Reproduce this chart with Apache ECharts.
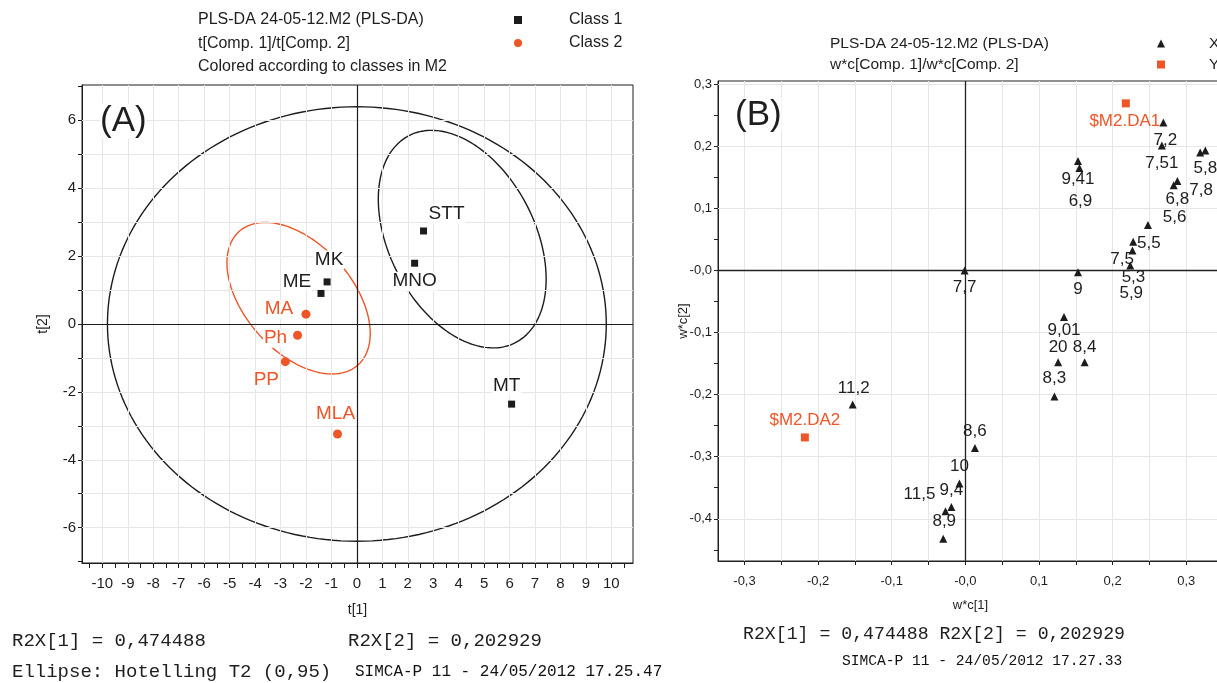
<!DOCTYPE html>
<html><head><meta charset="utf-8">
<script src="https://cdn.jsdelivr.net/npm/echarts@6/dist/echarts.min.js"></script>
<style>html,body{margin:0;padding:0;background:#fff}#c{width:1217px;height:683px}</style>
</head><body><div id="c"></div>
<script>
// ---------- Panel A : scores t[1] / t[2] ----------
const A_CLASS1_NAMES = ['MK', 'ME', 'STT', 'MNO', 'MT'];
const A_CLASS1_T1 = [-1.17, -1.41, 2.62, 2.27, 6.08];
const A_CLASS1_T2 = [1.24, 0.90, 2.74, 1.79, -2.36];
const A_CLASS2_NAMES = ['MA', 'Ph', 'PP', 'MLA'];
const A_CLASS2_T1 = [-2.00, -2.33, -2.81, -0.76];
const A_CLASS2_T2 = [0.29, -0.33, -1.11, -3.24];
// ellipses: centre + two conjugate semi-axis vectors (data units)
const A_HOTELLING = [0, 0, 9.8, 0, 0, 6.4];
const A_ELL_CLASS1 = [4.14, 2.50, 2.09, -3.05, -2.55, -0.98];
const A_ELL_CLASS2 = [-2.29, 0.76, 2.33, -1.97, -1.58, -1.05];
const A_X_TICKS = [-10.5, -10, -9.5, -9, -8.5, -8, -7.5, -7, -6.5, -6, -5.5, -5, -4.5, -4, -3.5, -3, -2.5, -2, -1.5, -1, -0.5, 0, 0.5, 1, 1.5, 2, 2.5, 3, 3.5, 4, 4.5, 5, 5.5, 6, 6.5, 7, 7.5, 8, 8.5, 9, 9.5, 10, 10.5];
const A_X_LABELS = [-10, -9, -8, -7, -6, -5, -4, -3, -2, -1, 0, 1, 2, 3, 4, 5, 6, 7, 8, 9, 10];
const A_Y_TICKS = [-7, -6, -5, -4, -3, -2, -1, 0, 1, 2, 3, 4, 5, 6, 7];
const A_Y_LABELS = [-6, -4, -2, 0, 2, 4, 6];
const A_Y_GRID = [-6, -5, -4, -3, -2, -1, 0, 1, 2, 3, 4, 5, 6];

// ---------- Panel B : loadings w*c[1] / w*c[2] ----------
const B_X_NAMES = ['7,2', '7,51', '5,8', '7,8', '6,8', '5,6', '5,5', '7,5', '5,3', '5,9', '9,41', '6,9', '7,7', '9', '9,01', '20', '8,4', '8,3', '11,2', '8,6', '10', '9,4', '11,5', '8,9'];
const B_X_WC1 = [0.269, 0.267, 0.326, 0.319, 0.288, 0.283, 0.248, 0.228, 0.227, 0.224, 0.153, 0.155, -0.001, 0.153, 0.134, 0.126, 0.162, 0.121, -0.153, 0.013, -0.008, -0.019, -0.027, -0.030];
const B_X_WC2 = [0.238, 0.201, 0.193, 0.190, 0.144, 0.137, 0.073, 0.046, 0.032, 0.008, 0.176, 0.165, 0.000, -0.003, -0.075, -0.148, -0.148, -0.203, -0.216, -0.286, -0.343, -0.381, -0.388, -0.432];
const B_Y_NAMES = ['$M2.DA1', '$M2.DA2'];
const B_Y_WC1 = [0.218, -0.218];
const B_Y_WC2 = [0.269, -0.269];
const B_X_TICKS = [-0.3, -0.25, -0.2, -0.15, -0.1, -0.05, 0, 0.05, 0.1, 0.15, 0.2, 0.25, 0.3, 0.35];
const B_X_LABELS = [-0.3, -0.2, -0.1, 0, 0.1, 0.2, 0.3];
const B_Y_TICKS = [-0.45, -0.4, -0.35, -0.3, -0.25, -0.2, -0.15, -0.1, -0.05, 0, 0.05, 0.1, 0.15, 0.2, 0.25, 0.3];
const B_Y_LABELS = [-0.4, -0.3, -0.2, -0.1, 0, 0.1, 0.2, 0.3];

// label placement (pixel offsets of label centre from the mark) - styling only
const LABEL_OFFSET = {
  'MK': [2, -22], 'ME': [-24, -12], 'STT': [23, -17], 'MNO': [0, 18], 'MT': [-5, -18],
  'MA': [-27, -5], 'Ph': [-22, 3], 'PP': [-19, 18], 'MLA': [-2, -20],
  '7,2': [2, 18], '7,51': [0, 18], '5,8': [0, 18], '7,8': [1, 38], '6,8': [0, 18], '5,6': [1, 32],
  '5,5': [1, 18], '7,5': [-11, 17], '5,3': [1, 27], '5,9': [1, 28], '9,41': [0, 18], '6,9': [1, 33],
  '7,7': [0, 17], '9': [0, 17], '9,01': [0, 13], '20': [0, -15], '8,4': [0, -15], '8,3': [0, -18],
  '11,2': [1, -16], '8,6': [0, -17], '10': [0, -17], '9,4': [0, -17], '11,5': [-26, -17], '8,9': [1, -17],
  '$M2.DA1': [-1, 18], '$M2.DA2': [0, -17]
};

const ORANGE = '#EE5527';
const INK = '#1c1c1c';
const TXT = '#1e1e1e';
const GRIDC = '#e6e6e6';
const FONT = '"Liberation Sans", Arial, sans-serif';
const MONO = '"Liberation Mono", "Courier New", monospace';

function items(names, xs, ys) {
  return names.map((n, i) => ({ name: n, value: [xs[i], ys[i]], label: { offset: LABEL_OFFSET[n] || [0, 0] } }));
}
function ellipse(e) {
  const out = [];
  for (let k = 0; k <= 200; k++) {
    const t = 2 * Math.PI * k / 200;
    out.push([e[0] + e[2] * Math.cos(t) + e[4] * Math.sin(t), e[1] + e[3] * Math.cos(t) + e[5] * Math.sin(t)]);
  }
  return out;
}
function fmtB(v) { if (Math.abs(v) < 1e-9) return '-0,0'; return v.toFixed(1).replace('.', ','); }

const chart = echarts.init(document.getElementById('c'), null, { renderer: 'canvas' });

function gridLines(xi, xs, ys, color) {
  return {
    type: 'line', xAxisIndex: xi, yAxisIndex: xi, data: [], z: 1, silent: true,
    markLine: {
      silent: true, symbol: ['none', 'none'], label: { show: false }, animation: false,
      lineStyle: { color: color, type: 'solid', width: 1 },
      emphasis: { disabled: true },
      data: xs.map(v => ({ xAxis: v })).concat(ys.map(v => ({ yAxis: v })))
    }
  };
}
function zeroLines(xi, color, w) {
  return {
    type: 'line', xAxisIndex: xi, yAxisIndex: xi, data: [], z: 3, silent: true,
    markLine: {
      silent: true, symbol: ['none', 'none'], label: { show: false }, animation: false,
      lineStyle: { color: color, type: 'solid', width: w },
      emphasis: { disabled: true },
      data: [{ xAxis: 0 }, { yAxis: 0 }]
    }
  };
}
function ell(data, color) {
  return { type: 'line', xAxisIndex: 0, yAxisIndex: 0, data: data, showSymbol: false, symbol: 'none', z: 2, silent: true,
    lineStyle: { color: color, width: 1.4 } };
}
const labelA = (color) => ({ show: true, position: 'inside', formatter: '{b}', fontSize: 19, color: color, opacity: 1,
  fontFamily: FONT, backgroundColor: '#fff', padding: [0, 1], textBorderWidth: 0 });
const labelB = (color) => ({ show: true, position: 'inside', formatter: '{b}', fontSize: 17, color: color, opacity: 1,
  fontFamily: FONT, textBorderWidth: 0 });

const option = {
  animation: false,
  backgroundColor: '#fff',
  textStyle: { fontFamily: FONT },
  title: [
    { text: 'PLS-DA 24-05-12.M2 (PLS-DA)\nt[Comp. 1]/t[Comp. 2]\nColored according to classes in M2',
      left: 198, top: 8, padding: 0,
      textStyle: { fontSize: 16, fontWeight: 'normal', lineHeight: 23.5, color: TXT, fontFamily: FONT } },
    { text: 'PLS-DA 24-05-12.M2 (PLS-DA)\nw*c[Comp. 1]/w*c[Comp. 2]',
      left: 830, top: 33, padding: 0,
      textStyle: { fontSize: 15.5, fontWeight: 'normal', lineHeight: 21, color: TXT, fontFamily: FONT } }
  ],
  legend: [
    { data: [{ name: 'Class 1', icon: 'rect' }, { name: 'Class 2', icon: 'circle' }], orient: 'vertical',
      left: 514, top: 11, itemWidth: 8, itemHeight: 8, itemGap: 5, selectedMode: false, padding: 0,
      itemStyle: { opacity: 1 },
      textStyle: { fontSize: 16, color: TXT, fontFamily: FONT, lineHeight: 18, padding: [0, 0, 0, 42] } },
    { data: [{ name: 'X', icon: 'triangle' }, { name: 'Y', icon: 'rect' }], orient: 'vertical',
      left: 1157, top: 35, itemWidth: 8, itemHeight: 8, itemGap: 4, selectedMode: false, padding: 0,
      itemStyle: { opacity: 1 },
      textStyle: { fontSize: 15.5, color: TXT, fontFamily: FONT, lineHeight: 17, padding: [0, 0, 0, 39] } }
  ],
  grid: [
    { left: 82, top: 85, width: 551, height: 478, show: true, borderColor: INK, borderWidth: 1, backgroundColor: 'transparent', outerBoundsMode: 'none', containLabel: false },
    { left: 718, top: 81, width: 505, height: 480, show: true, borderColor: '#222', borderWidth: 1, backgroundColor: 'transparent', outerBoundsMode: 'none', containLabel: false }
  ],
  xAxis: [
    { gridIndex: 0, type: 'value', min: -10.8, max: 10.85, position: 'bottom',
      axisLine: { show: true, onZero: false, lineStyle: { color: INK } },
      axisTick: { show: true, customValues: A_X_TICKS, length: 5, lineStyle: { color: INK } },
      axisLabel: { customValues: A_X_LABELS, fontSize: 15, color: TXT, margin: 13, fontFamily: FONT },
      splitLine: { show: false },
      name: 't[1]', nameLocation: 'middle', nameGap: 40, nameMoveOverlap: false,
      nameTextStyle: { fontSize: 14, color: TXT, fontFamily: FONT } },
    { gridIndex: 1, type: 'value', min: -0.336, max: 0.35, position: 'bottom',
      axisLine: { show: true, onZero: false, lineStyle: { color: '#222' } },
      axisTick: { show: true, customValues: B_X_TICKS, length: 4, lineStyle: { color: '#222' } },
      axisLabel: { customValues: B_X_LABELS, formatter: fmtB, fontSize: 13, color: TXT, margin: 14, fontFamily: FONT },
      splitLine: { show: false },
      name: 'w*c[1]', nameLocation: 'middle', nameGap: 38, nameMoveOverlap: false,
      nameTextStyle: { fontSize: 13, color: TXT, fontFamily: FONT } }
  ],
  yAxis: [
    { gridIndex: 0, type: 'value', min: -7.04, max: 7.04, position: 'left',
      axisLine: { show: true, onZero: false, lineStyle: { color: INK } },
      axisTick: { show: true, customValues: A_Y_TICKS, length: 4, lineStyle: { color: INK } },
      axisLabel: { customValues: A_Y_LABELS, fontSize: 15, color: TXT, margin: 6, fontFamily: FONT },
      splitLine: { show: false },
      name: 't[2]', nameLocation: 'middle', nameGap: 32, nameMoveOverlap: false,
      nameTextStyle: { fontSize: 14, color: TXT, fontFamily: FONT } },
    { gridIndex: 1, type: 'value', min: -0.468, max: 0.305, position: 'left',
      axisLine: { show: true, onZero: false, lineStyle: { color: '#222' } },
      axisTick: { show: true, customValues: B_Y_TICKS, length: 4, lineStyle: { color: '#222' } },
      axisLabel: { customValues: B_Y_LABELS, formatter: fmtB, fontSize: 13, color: TXT, margin: 6, fontFamily: FONT },
      splitLine: { show: false },
      name: 'w*c[2]', nameLocation: 'middle', nameGap: 28, nameMoveOverlap: false,
      nameTextStyle: { fontSize: 13, color: TXT, fontFamily: FONT } }
  ],
  graphic: [
    { type: 'text', z: 100, x: 100, y: 121, style: { text: '(A)', fontSize: 35, fontFamily: FONT, fill: TXT, align: 'left', verticalAlign: 'middle', backgroundColor: '#fff' } },
    { type: 'text', z: 100, x: 735, y: 115, style: { text: '(B)', fontSize: 35, fontFamily: FONT, fill: TXT, align: 'left', verticalAlign: 'middle', backgroundColor: '#fff' } },
    { type: 'text', x: 12, y: 641, style: { text: 'R2X[1] = 0,474488', fontSize: 19, fontFamily: MONO, fill: TXT, align: 'left', verticalAlign: 'middle' } },
    { type: 'text', x: 348, y: 641, style: { text: 'R2X[2] = 0,202929', fontSize: 19, fontFamily: MONO, fill: TXT, align: 'left', verticalAlign: 'middle' } },
    { type: 'text', x: 12, y: 672, style: { text: 'Ellipse: Hotelling T2 (0,95)', fontSize: 19, fontFamily: MONO, fill: TXT, align: 'left', verticalAlign: 'middle' } },
    { type: 'text', x: 355, y: 672, style: { text: 'SIMCA-P 11 - 24/05/2012 17.25.47', fontSize: 16, fontFamily: MONO, fill: '#111', align: 'left', verticalAlign: 'middle' } },
    { type: 'text', x: 743, y: 634, style: { text: 'R2X[1] = 0,474488 R2X[2] = 0,202929', fontSize: 18.2, fontFamily: MONO, fill: TXT, align: 'left', verticalAlign: 'middle' } },
    { type: 'text', x: 842, y: 661, style: { text: 'SIMCA-P 11 - 24/05/2012 17.27.33', fontSize: 14.6, fontFamily: MONO, fill: '#111', align: 'left', verticalAlign: 'middle' } }
  ],
  series: [
    gridLines(0, A_X_LABELS, A_Y_GRID, GRIDC),
    gridLines(1, B_X_TICKS, B_Y_LABELS, GRIDC),
    zeroLines(0, INK, 1.2),
    zeroLines(1, '#222', 1.3),
    ell(ellipse(A_HOTELLING), INK),
    ell(ellipse(A_ELL_CLASS1), INK),
    ell(ellipse(A_ELL_CLASS2), ORANGE),
    { name: 'Class 1', type: 'scatter', xAxisIndex: 0, yAxisIndex: 0, z: 5, symbol: 'rect', symbolSize: 7,
      itemStyle: { color: INK, opacity: 1 }, label: labelA(TXT), data: items(A_CLASS1_NAMES, A_CLASS1_T1, A_CLASS1_T2) },
    { name: 'Class 2', type: 'scatter', xAxisIndex: 0, yAxisIndex: 0, z: 5, symbol: 'circle', symbolSize: 9,
      itemStyle: { color: ORANGE, opacity: 1 }, label: labelA(ORANGE), data: items(A_CLASS2_NAMES, A_CLASS2_T1, A_CLASS2_T2) },
    { name: 'X', type: 'scatter', xAxisIndex: 1, yAxisIndex: 1, z: 5, symbol: 'triangle', symbolSize: 8,
      itemStyle: { color: INK, opacity: 1 }, label: labelB(TXT), data: items(B_X_NAMES, B_X_WC1, B_X_WC2) },
    { name: 'Y', type: 'scatter', xAxisIndex: 1, yAxisIndex: 1, z: 5, symbol: 'rect', symbolSize: 8,
      itemStyle: { color: ORANGE, opacity: 1 }, label: labelB(ORANGE), data: items(B_Y_NAMES, B_Y_WC1, B_Y_WC2) }
  ]
};
chart.setOption(option);
</script>
</body></html>
